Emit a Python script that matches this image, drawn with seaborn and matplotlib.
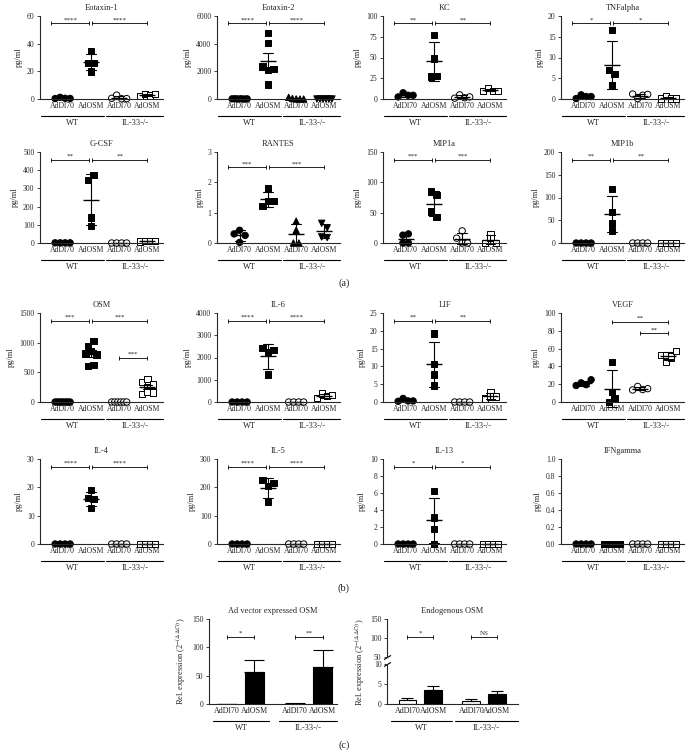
import numpy as np
import pandas as pd
import matplotlib
matplotlib.use('Agg')
import matplotlib.pyplot as plt
import matplotlib.transforms as mtrans
import seaborn as sns

sns.set_style('ticks')
plt.rcParams['font.family'] = ['Liberation Serif', 'DejaVu Serif']
plt.rcParams['mathtext.fontset'] = 'stix'
plt.rcParams['axes.linewidth'] = 0.8

W, H = 688, 751

groups = ['WT AdDl70', 'WT AdOSM', 'IL-33-/- AdDl70', 'IL-33-/- AdOSM']
vectors = ['AdDl70', 'AdOSM', 'AdDl70', 'AdOSM']
genotypes = ['WT', 'IL-33-/-']

# (a) pg/ml, one list per group (WT AdDl70, WT AdOSM, IL-33 AdDl70, IL-33 AdOSM)
eotaxin1 = [[0.3, 1.2, 0.5, 0.4], [34.5, 26, 26, 20], [0.5, 2.8, 0.2, 0.3], [2, 3.5, 2.5, 3.5]]
eotaxin2 = [[10, 20, 5, 15, 0, 10], [4750, 4050, 2350, 2100, 2150, 1050], [120, 40, 10, 0, 0], [0, 0, 0, 0, 0, 0]]
kc = [[2.5, 7.5, 4.5, 4.5], [77, 49, 27, 28], [1, 5, 1.5, 2.5], [10, 13, 10, 10]]
tnfa = [[0.1, 1, 0.6, 0.6], [16.6, 7, 6, 3.3], [1.2, 0.1, 0.9, 1.1], [0.1, 0.7, 0.1, 0.1]]
gcsf = [[1, 1, 1, 1], [345, 375, 140, 95], [0, 0, 0, 0], [8, 10, 10, 12]]
rantes = [[0.02, 0.3, 0.42, 0.25], [1.8, 1.22, 1.38, 1.38], [0.72, 0.42, 0, 0], [0.65, 0.5, 0.2, 0.18]]
mip1a = [[0, 13, 15, 0], [85, 79, 52, 43], [20, 8, 0, 0], [0, 15, 8, 0]]
mip1b = [[0, 0, 0, 0], [118, 68, 43, 27], [0, 0, 0, 0], [0, 0, 0, 0]]

# (b)
osm = [[0] * 8, [815, 610, 946, 864, 625, 1032, 799], [0] * 6, [337, 130, 255, 174, 391, 293, 163]]
il6 = [[0] * 4, [2430, 2250, 2350, 1230], [0] * 4, [180, 380, 260, 320]]
lif = [[0.2, 1, 0.3, 0.3], [19.2, 10.7, 7.7, 4.6], [0] * 4, [1, 2.8, 1.5, 1.5]]
vegf = [[18.5, 21.5, 19.5, 25], [0, 45, 11, 4], [13.5, 17.5, 14, 15], [45, 53, 50, 53, 52, 57]]
il4 = [[0] * 4, [16.2, 19, 12.8, 15.8], [0] * 4, [0] * 4]
il5 = [[0] * 4, [225, 205, 148, 215], [0] * 4, [0] * 4]
il13 = [[0] * 4, [6.2, 3.1, 1.8, 0], [0] * 4, [0] * 4]
ifng = [[0] * 4, [0] * 8, [0] * 4, [0] * 4]

# (c) relative expression, mean and SD
advec_mean = [0.3, 57, 0.8, 65]
advec_sd = [0, 20, 0.3, 30]
endo_mean = [1.0, 3.4, 0.8, 2.4]
endo_sd = [0.4, 1.2, 0.5, 0.8]

plain = (['o', 's', 'o', 's'], ['black', 'black', 'white', 'white'])
tri = (['o', 's', '^', 'v'], ['black', 'black', 'black', 'black'])


def std(s):
    return [(-0.4, 0.95, s, 0.91), (1.05, 3.0, s, 0.91)]


panels = [
    ('Eotaxin-1', eotaxin1, 60, 20, 'sd', plain, std('****')),
    ('Eotaxin-2', eotaxin2, 6000, 2000, 'se', tri, std('****')),
    ('KC', kc, 100, 25, 'sd', plain, std('**')),
    ('TNFalpha', tnfa, 20, 5, 'sd', plain, std('*')),
    ('G-CSF', gcsf, 500, 100, 'sd', plain, std('**')),
    ('RANTES', rantes, 3, 1, 'sd', tri, [(-0.4, 0.95, '***', 0.83), (1.05, 3.0, '***', 0.83)]),
    ('MIP1a', mip1a, 150, 50, 'sd', plain, std('***')),
    ('MIP1b', mip1b, 200, 50, 'sd', plain, std('**')),
    ('OSM', osm, 1500, 500, 'se', plain, std('***')[:2] + [(2.0, 3.0, '***', 0.5)]),
    ('IL-6', il6, 4000, 1000, 'sd', plain, std('****')),
    ('LIF', lif, 25, 5, 'sd', plain, std('**')),
    ('VEGF', vegf, 100, 20, 'sd', plain, [(1.0, 3.0, '**', 0.9), (2.0, 3.0, '**', 0.77)]),
    ('IL-4', il4, 30, 10, 'sd', plain, std('****')),
    ('IL-5', il5, 300, 100, 'sd', plain, std('****')),
    ('IL-13', il13, 10, 2, 'sd', plain, std('*')),
    ('IFNgamma', ifng, 1.0, 0.2, 'sd', plain, []),
]

COLS = [40, 217, 383, 561]
COL_W = 123
ROWS = [(16, 99), (152, 243), (313, 402), (459, 544)]
XLIM = (-0.8, 3.55)

fig = plt.figure(figsize=(W / 100, H / 100), dpi=100)


def add_ax(x, top, w, zero):
    return fig.add_axes([x / W, 1 - zero / H, w / W, (zero - top) / H])


def spread(vals, ypx, xpx, step_px=5.5, max_px=15.0, near_px=6.0):
    # Prism-like horizontal spreading of points that sit at similar heights
    vals = np.asarray(vals, float)
    offs = np.zeros(len(vals))
    clusters = []
    for i in np.argsort(vals, kind='stable'):
        if clusters and (vals[i] - vals[clusters[-1][0]]) * ypx < near_px:
            clusters[-1].append(i)
        else:
            clusters.append([i])
    for c in clusters:
        c = sorted(c)
        k = len(c)
        if k > 1:
            step = min(step_px, max_px / (k - 1))
            offs[c] = (np.arange(k) - (k - 1) / 2) * step / xpx
    return offs


def group_labels(ax, spans):
    tr_line = mtrans.offset_copy(ax.get_xaxis_transform(), fig=fig, y=-12, units='points')
    tr_text = mtrans.offset_copy(ax.get_xaxis_transform(), fig=fig, y=-17.3, units='points')
    for (a, b), name in zip(spans, genotypes):
        ax.plot([a, b], [0, 0], transform=tr_line, color='black', lw=0.8, clip_on=False)
        ax.text((a + b) / 2, 0, name, transform=tr_text, ha='center', va='center', fontsize=6)


def sig_bars(ax, comps, ymax):
    for x0, x1, lab, frac in comps:
        y = frac * ymax
        ax.plot([x0, x1], [y, y], color='black', lw=0.6, marker='|', markersize=3.5,
                markeredgewidth=0.6, clip_on=False)
        ax.annotate(lab, ((x0 + x1) / 2, y), xytext=(0, 0.8), textcoords='offset points',
                    ha='center', va='bottom', fontsize=5)


def dot_panel(ax, title, data, ymax, ystep, err, style, comps, hpx):
    marks, fills = style
    df = pd.DataFrame([(g, v) for g, vals in zip(groups, data) for v in vals],
                      columns=['group', 'value'])
    sns.pointplot(data=df, x='group', y='value', order=groups, errorbar=err, color='black',
                  linestyle='none', marker='_', markersize=11, markeredgewidth=1.0,
                  capsize=0.35, err_kws={'linewidth': 0.8}, ax=ax)
    ypx = hpx / ymax
    xpx = COL_W / (XLIM[1] - XLIM[0])
    df['xpos'] = np.concatenate([i + spread(vals, ypx, xpx) for i, vals in enumerate(data)])
    sns.scatterplot(data=df, x='xpos', y='value', hue='group', style='group',
                    hue_order=groups, style_order=groups,
                    palette=dict(zip(groups, fills)), markers=dict(zip(groups, marks)),
                    edgecolor='black', linewidth=0.7, s=21, legend=False, zorder=1, ax=ax)
    ax.set_xlim(*XLIM)
    ax.set_ylim(0, ymax)
    ax.set_yticks(np.arange(0, ymax + ystep / 2, ystep))
    ax.set_xticks(range(4))
    ax.set_xticklabels(vectors)
    ax.tick_params(axis='x', length=0, pad=2.5, labelsize=5.6)
    ax.tick_params(axis='y', length=2.5, width=0.6, labelsize=5.5, pad=1.5)
    ax.set_xlabel('')
    ax.set_ylabel('pg/ml', fontsize=6, labelpad=3)
    ax.set_title(title, fontsize=6, pad=4)
    sns.despine(ax=ax)
    for art in ax.collections + ax.lines:
        art.set_clip_on(False)
    sig_bars(ax, comps, ymax)
    group_labels(ax, [(-0.75, 1.45), (1.55, 3.55)])


for k, (title, data, ymax, ystep, err, style, comps) in enumerate(panels):
    top, zero = ROWS[k // 4]
    ax = add_ax(COLS[k % 4], top, COL_W, zero)
    dot_panel(ax, title, data, ymax, ystep, err, style, comps, zero - top)


def bar_panel(ax, means, sds, cap):
    df = pd.DataFrame({'genotype': np.repeat(genotypes, 2), 'vector': vectors, 'value': means})
    sns.barplot(data=df, x='genotype', y='value', hue='vector', order=genotypes,
                hue_order=['AdDl70', 'AdOSM'], palette={'AdDl70': 'white', 'AdOSM': 'black'},
                edgecolor='black', linewidth=0.8, width=0.8, gap=0.3, errorbar=None,
                legend=False, ax=ax)
    bars = sorted(ax.patches, key=lambda p: p.get_x())
    xc = [p.get_x() + p.get_width() / 2 for p in bars]
    hs = [p.get_height() for p in bars]
    ax.errorbar(xc, hs, yerr=[np.zeros(4), sds], fmt='none', ecolor='black',
                elinewidth=0.8, capsize=cap, capthick=0.8)
    ax.set_xticks(xc)
    ax.set_xticklabels(vectors)
    ax.tick_params(axis='x', length=0, pad=2.5, labelsize=5.8)
    ax.tick_params(axis='y', length=2.5, width=0.6, labelsize=5.5, pad=1.5)
    ax.set_xlabel('')
    ax.set_ylabel('')
    sns.despine(ax=ax)
    return xc


ylab = r'Rel. expression (2$^{-(\Delta\Delta Ct)}$)'

# Ad vector expressed OSM
ax = add_ax(209, 619, 128, 704)
xc = bar_panel(ax, advec_mean, advec_sd, 7)
ax.set_xlim(-0.46, 1.41)
ax.set_ylim(0, 150)
ax.set_yticks([0, 50, 100, 150])
ax.set_title('Ad vector expressed OSM', fontsize=6, pad=4)
ax.set_ylabel(ylab, fontsize=6, labelpad=3)
sig_bars(ax, [(xc[0], xc[1], '*', 118 / 150), (xc[2], xc[3], '**', 118 / 150)], 150)
group_labels(ax, [(-0.4, 0.42), (0.56, 1.41)])

# Endogenous OSM, broken axis
axl = add_ax(387, 664, 131, 704)
axu = add_ax(387, 619, 131, 657)
xc = bar_panel(axl, endo_mean, endo_sd, 4.5)
axl.set_xlim(-0.52, 1.53)
axl.set_ylim(0, 10)
axl.set_yticks([0, 5, 10])
group_labels(axl, [(-0.45, 0.5), (0.55, 1.53)])
axu.set_xlim(-0.52, 1.53)
axu.set_ylim(50, 150)
axu.set_yticks([50, 100, 150])
axu.set_xticks([])
axu.tick_params(axis='y', length=2.5, width=0.6, labelsize=5.5, pad=1.5)
sns.despine(ax=axu, bottom=True)
axu.set_title('Endogenous OSM', fontsize=6, pad=4)
sig_bars(axu, [(xc[0], xc[1], '*', 103 / 150), (xc[2], xc[3], 'NS', 103 / 150)], 150)
for a, yy in ((axu, 0), (axl, 1)):
    a.plot([0], [yy], transform=a.transAxes, marker=[(-1, -0.6), (1, 0.6)], markersize=5,
           color='black', mew=0.8, linestyle='none', clip_on=False)
fig.text(360 / W, 1 - 662 / H, ylab, rotation=90, ha='center', va='center', fontsize=6)

for lab, y in (('(a)', 283), ('(b)', 588), ('(c)', 745)):
    fig.text(344 / W, 1 - y / H, lab, ha='center', va='center', fontsize=7.5)

fig.savefig('out.png', dpi=100)
